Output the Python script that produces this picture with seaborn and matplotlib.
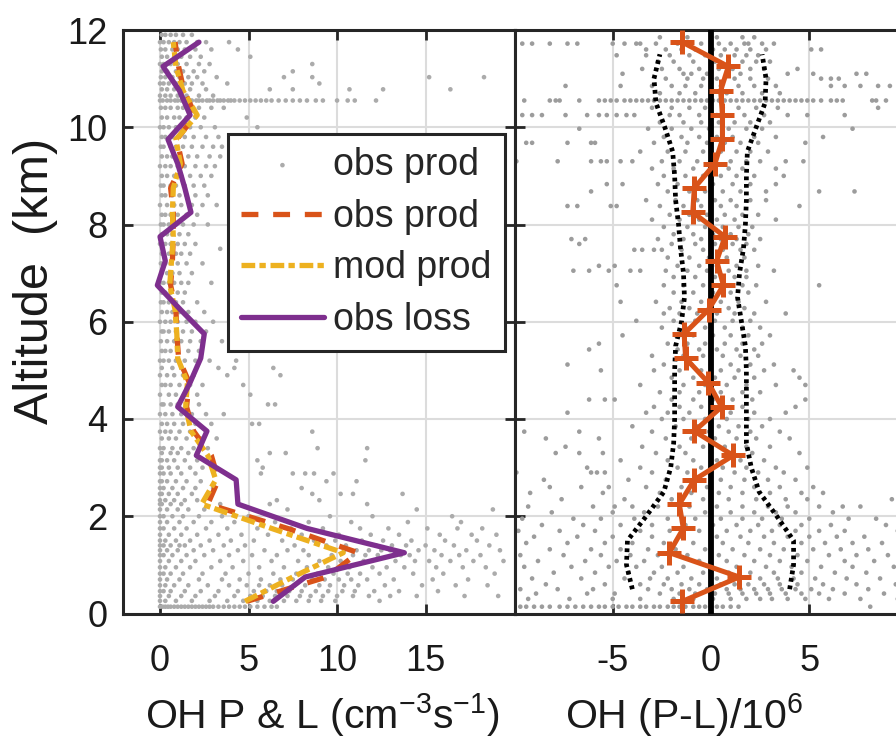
import numpy as np
import pandas as pd
import matplotlib
matplotlib.use("Agg")
import matplotlib.pyplot as plt
import seaborn as sns

# ---------------- data ----------------
alt_levels = [0.25, 0.75, 1.25, 1.75, 2.25, 2.75, 3.25, 3.75, 4.25, 4.75, 5.25, 5.75,
              6.25, 6.75, 7.25, 7.75, 8.25, 8.75, 9.25, 9.75, 10.25, 10.75, 11.25, 11.75]
obs_prod = [4.9, 9.4, 11.2, 7.2, 2.7, 3.3, 2.9, 1.9, 1.5, 1.65, 1.05, 0.95,
            0.9, 0.6, 0.7, 0.75, 0.75, 0.6, 1.25, 0.95, 2.0, 1.35, 1.05, 0.85]
mod_prod = [4.8, 7.5, 10.35, 6.3, 2.35, 3.15, 2.7, 1.75, 1.45, 1.55, 1.0, 0.95,
            0.85, 0.55, 0.65, 0.75, 0.7, 0.75, 1.15, 0.9, 2.1, 1.3, 0.9, 0.75]
obs_loss = [6.4, 8.2, 13.8, 8.3, 4.4, 4.3, 2.05, 2.65, 1.0, 1.7, 2.3, 2.5,
            1.15, -0.15, 0.3, 0.0, 1.75, 1.4, 1.0, 0.45, 1.7, 1.1, 0.17, 2.2]
pl_diff = [-1.46, 1.44, -2.12, -1.41, -1.61, -0.85, 1.13, -0.85, 0.54, -0.14, -1.29, -1.37,
           -0.12, 0.63, 0.29, 0.71, -0.93, -0.85, 0.2, 0.58, 0.58, 0.49, 0.88, -1.46]

band_alt = [0.5, 1.0, 1.5, 2.0, 2.5, 3.0, 3.5, 4.0, 4.5, 5.0, 5.5, 6.0,
            6.5, 7.0, 7.5, 8.0, 8.5, 9.0, 9.5, 10.0, 10.5, 11.0, 11.5]
band_low = [-4.0, -4.3, -4.25, -3.3, -2.4, -2.05, -1.9, -1.85, -1.85, -1.85, -1.8, -1.5,
            -1.35, -1.4, -1.55, -1.65, -1.8, -1.85, -1.95, -2.35, -2.8, -2.9, -2.6]
band_high = [4.0, 4.2, 4.2, 3.35, 2.45, 2.05, 1.8, 1.8, 1.8, 1.8, 1.75, 1.55,
             1.35, 1.45, 1.65, 1.75, 1.8, 1.8, 1.85, 2.3, 2.75, 2.8, 2.6]

left_tick_vals = [0, 5, 10, 15]
right_tick_vals = [-5, 0, 5]
alt_ticks = [0, 2, 4, 6, 8, 10, 12]

left_dot_rows = [
    (11.9, [0.1, 0.3, 0.6, 0.9, 1.3, 1.8]),
    (11.75, [0.0, 0.2, 0.5, 0.8, 1.1, 1.5, 2.1, 2.6, 3.9]),
    (11.6, [0.05, 0.3, 0.7, 1.0, 1.4, 2.0, 2.9, 4.4]),
    (11.45, [0.1, 0.4, 0.8, 1.2, 1.7, 2.3, 5.1]),
    (11.3, [0.0, 0.2, 0.6, 1.0, 1.5, 2.2, 2.8, 8.6]),
    (11.15, [0.1, 0.4, 0.9, 1.3, 1.9, 2.5, 7.5]),
    (11.03, [0.05, 0.3, 0.7, 1.1, 1.6, 2.1, 3.2, 7.0, 8.6, 15.2, 18.3]),
    (10.9, [0.0, 0.2, 0.5, 0.9, 1.4, 1.8, 2.4, 3.8, 9.0]),
    (10.78, [0.1, 0.4, 0.8, 1.2, 1.7, 2.6, 6.2, 7.5, 10.7, 12.6, 16.4]),
    (10.65, [0.0, 0.3, 0.6, 1.0, 1.5, 2.2, 3.0]),
    (10.55, [0.0, 0.15, 0.4, 0.6, 0.85, 1.0, 1.2, 1.45, 1.6, 1.8, 2.05, 2.2, 2.4, 2.65, 2.8, 3.0,
             3.25, 3.4, 3.6, 3.85, 4.0, 4.2, 4.5, 4.8, 5.1, 5.4, 5.7, 6.0, 6.3, 6.7, 7.1, 7.5,
             7.9, 8.3, 8.8, 9.2, 10.0, 10.6, 11.0, 12.2]),
    (10.4, [0.05, 0.3, 0.6, 1.0, 1.3, 1.7, 2.2, 2.9, 3.6]),
    (10.2, [0.1, 0.4, 0.8, 1.1, 1.5, 2.0, 2.5, 4.9]),
    (10.0, [0.0, 0.2, 0.5, 0.9, 1.2, 1.7, 2.3, 3.1, 5.5]),
    (9.8, [0.1, 0.3, 0.7, 1.0, 1.4, 1.9, 2.6, 3.3]),
    (9.6, [0.05, 0.2, 0.6, 0.9, 1.3, 1.8, 2.4, 3.0, 3.5]),
    (9.4, [0.1, 0.4, 0.7, 1.1, 1.6, 2.1, 2.8, 3.4]),
    (9.2, [0.0, 0.3, 0.6, 1.0, 1.4, 2.0, 2.6, 3.1]),
    (9.0, [0.1, 0.4, 0.8, 1.2, 1.7, 2.3, 2.9]),
    (8.8, [0.05, 0.2, 0.6, 0.9, 1.4, 1.9, 2.5]),
    (8.6, [0.1, 0.3, 0.7, 1.1, 1.5, 2.0, 2.7]),
    (8.4, [0.0, 0.4, 0.8, 1.2, 1.8, 2.4, 3.2]),
    (8.2, [0.1, 0.3, 0.6, 1.0, 1.5, 2.1]),
    (8.0, [0.05, 0.2, 0.5, 0.9, 1.3, 1.9, 2.7]),
    (7.8, [0.1, 0.4, 0.7, 1.1, 1.6]),
    (7.6, [0.0, 0.3, 0.6, 1.0, 1.4, 2.0]),
    (7.5, [3.4]),
    (7.4, [0.1, 0.2, 0.5, 0.9, 1.2, 1.7]),
    (7.2, [0.05, 0.3, 0.6, 1.0, 1.5, 2.4]),
    (7.0, [0.1, 0.4, 0.7, 1.1, 1.8]),
    (6.8, [0.0, 0.2, 0.5, 0.8, 1.2, 1.6, 2.9]),
    (6.6, [0.1, 0.3, 0.6, 1.0, 1.4]),
    (6.4, [0.05, 0.2, 0.5, 0.9, 1.3, 2.1]),
    (6.2, [0.1, 0.4, 0.7, 1.1, 1.6, 2.5]),
    (6.0, [0.0, 0.3, 0.6, 1.0, 1.5, 2.0, 3.0]),
    (5.8, [0.1, 0.2, 0.5, 0.9, 1.3, 1.8, 2.6]),
    (5.6, [0.05, 0.4, 0.8, 1.2, 1.7, 2.3, 3.5]),
    (5.4, [0.1, 0.3, 0.6, 1.0, 1.6, 2.2]),
    (5.2, [0.0, 0.2, 0.5, 0.9, 1.4, 2.0, 2.8, 4.3]),
    (5.05, [0.1, 0.7, 1.2, 3.3, 4.2, 6.4]),
    (4.9, [0.0, 0.4, 0.8, 1.3, 1.9, 3.8, 6.8]),
    (4.7, [0.1, 0.3, 0.6, 1.1, 1.7, 2.4, 4.7]),
    (4.5, [0.0, 0.5, 0.9, 1.4, 2.1, 5.1]),
    (4.3, [0.1, 0.2, 0.6, 1.0, 1.5, 2.2, 6.1, 6.5]),
    (4.1, [0.0, 0.3, 0.7, 1.2, 1.8, 2.6, 3.6]),
    (3.9, [0.1, 0.4, 0.8, 1.3, 2.0, 2.9, 5.2, 5.6]),
    (3.74, [0.0, 0.3, 0.6, 1.1, 1.7, 8.6]),
    (3.6, [0.1, 0.5, 0.9, 1.5, 2.3, 3.2]),
    (3.4, [0.0, 0.2, 0.7, 1.2, 1.9, 2.7, 8.9, 11.7]),
    (3.3, [0.1, 0.6, 1.0, 1.6, 6.2, 7.1]),
    (3.15, [0.0, 0.1, 0.4, 0.8, 1.4, 2.1, 5.5, 11.6]),
    (3.0, [0.0, 0.1, 0.5, 1.0, 1.7, 2.4, 5.8]),
    (2.88, [0.0, 0.2, 0.6, 1.2, 2.0, 5.7, 7.5, 8.2, 8.7, 9.8]),
    (2.72, [0.0, 0.1, 0.4, 0.9, 1.5, 2.3, 9.4, 11.1]),
    (2.58, [0.0, 0.2, 0.7, 1.3, 2.0, 3.0, 8.0]),
    (2.46, [0.0, 0.1, 0.5, 1.0, 1.8, 2.7, 8.6, 10.2, 10.9, 13.7]),
    (2.33, [0.0, 0.3, 0.8, 1.4, 2.1, 6.6, 9.0]),
    (2.25, [0.0, 0.1, 0.6, 1.2, 3.4, 6.2, 11.7]),
    (2.14, [0.0, 0.4, 1.0, 1.6, 2.5, 7.2, 14.5, 18.8]),
    (2.0, [0.0, 0.2, 0.7, 1.3, 2.2, 3.5, 5.0, 9.6, 12.0, 16.5]),
    (1.88, [0.0, 0.4, 1.1, 1.9, 2.9, 4.2, 6.5, 8.4, 10.8, 14.0, 17.0]),
    (1.75, [0.0, 0.2, 0.8, 1.5, 2.6, 3.8, 5.5, 7.4, 9.2, 11.3, 12.9, 15.1, 16.8, 18.2]),
    (1.62, [0.0, 0.5, 1.2, 2.1, 3.3, 4.6, 6.1, 8.0, 10.1, 11.9, 13.5, 15.8, 17.6, 19.0]),
    (1.5, [0.0, 0.3, 0.9, 1.7, 2.8, 4.0, 5.3, 6.9, 8.7, 9.9, 11.4, 12.6, 14.2, 16.1, 17.9]),
    (1.4, [0.0, 0.2, 0.6, 1.1, 1.4, 2.3, 3.6, 4.8, 7.6, 9.4, 10.5, 12.2, 13.1, 13.9, 15.0, 16.6, 18.6]),
    (1.3, [0.0, 0.4, 1.0, 1.9, 3.0, 4.4, 5.9, 7.2, 8.1, 10.4, 11.1, 11.8, 12.5, 13.0, 14.6, 15.5, 17.3, 19.2]),
    (1.2, [0.0, 0.2, 0.7, 1.5, 2.5, 3.9, 5.2, 6.6, 8.4, 9.7, 10.9, 11.6, 12.3, 13.6, 14.1, 15.9, 16.9, 18.1]),
    (1.08, [0.0, 0.5, 1.2, 2.0, 3.4, 4.7, 6.3, 7.8, 9.0, 10.2, 11.5, 13.3, 14.4, 15.2, 16.4, 17.7, 19.4]),
    (0.95, [0.0, 0.3, 0.9, 1.7, 2.9, 4.1, 5.6, 7.0, 8.3, 9.5, 10.7, 12.0, 12.8, 13.8, 15.6, 17.1, 18.4]),
    (0.82, [0.0, 0.2, 0.6, 1.3, 2.4, 3.7, 5.0, 6.4, 7.7, 8.9, 9.8, 10.6, 11.3, 12.4, 14.3, 16.0, 18.9]),
    (0.7, [0.0, 0.4, 1.1, 2.2, 3.5, 4.5, 5.7, 6.8, 7.5, 8.6, 9.3, 10.1, 10.8, 11.7, 13.2, 15.4, 17.4]),
    (0.58, [0.0, 0.3, 0.8, 1.6, 2.7, 3.9, 4.9, 5.6, 6.2, 6.9, 7.6, 8.2, 9.0, 9.6, 10.4, 11.2, 12.7, 14.8, 16.7, 18.5]),
    (0.46, [0.0, 0.2, 0.6, 1.4, 2.3, 3.3, 4.4, 5.3, 6.0, 6.6, 7.3, 8.0, 8.8, 9.5, 10.3, 11.0, 12.1, 13.5, 15.7]),
    (0.36, [0.0, 0.5, 1.2, 2.0, 3.1, 4.2, 5.1, 5.8, 6.5, 7.2, 7.9, 8.5, 9.2, 10.0, 10.9, 11.8, 13.0, 14.5, 17.2, 19.1]),
    (0.26, [0.0, 0.3, 0.9, 1.8, 2.8, 3.8, 4.7, 5.5, 6.2, 7.0, 7.7, 8.4, 9.1, 9.9, 12.4]),
    (0.14, [0.0, 0.15, 0.3, 0.45, 0.6, 0.8, 1.0, 1.2, 1.4, 1.6, 1.8, 2.0, 2.2, 2.4, 2.6, 2.8,
            3.0, 3.3, 3.6, 3.9, 4.2, 4.5, 4.8, 5.1, 5.5, 5.9, 6.3, 6.6]),
]

right_dot_rows = [
    (11.85, [-2.6, -1.2, 0.3, 1.6, 2.2]),
    (11.72, [-9.6, -9.1, -8.2, -7.3, -6.8, -5.0, -4.4, -3.8, -3.6, -2.8, -1.7, -0.5, 0.4, 1.0, 1.7, 1.9, 2.6, 3.2]),
    (11.6, [-3.3, -2.3, -1.5, -0.8, 0.1, 0.7, 1.3, 2.0, 2.8, 5.1, 5.6]),
    (11.48, [-4.8, -3.3, -2.1, -1.1, -0.3, 0.5, 1.2, 1.8, 2.4]),
    (11.35, [-2.7, -1.9, -0.9, 0.2, 0.9, 1.6, 2.3, 3.0]),
    (11.2, [-3.5, -2.5, -1.6, -0.6, 0.4, 1.1, 2.0, 2.7, 4.4]),
    (11.1, [-4.5, -1.4, -1.0, -0.2, 0.8, 1.5, 3.9, 5.2, 7.4, 7.9]),
    (11.0, [-2.3, -1.2, -0.4, 0.3, 1.2, 2.0, 2.9, 5.6, 6.1, 6.5]),
    (10.85, [-7.4, -4.6, -3.0, -2.0, -1.3, -0.5, 0.5, 1.4, 2.2, 3.3, 6.1, 6.8, 7.6, 8.5, 9.1]),
    (10.7, [-2.6, -1.6, -0.8, 0.0, 0.8, 1.6, 2.6, 3.5]),
    (10.55, [-9.5, -8.2, -7.9, -7.7, -6.7, -5.7, -5.4, -5.1, -4.8, -4.4, -4.1, -3.8, -3.5, -3.2,
             -2.9, -2.6, -2.3, -2.0, -1.7, -1.4, -1.1, -0.8, -0.5, -0.2, 0.1, 0.4, 0.7, 1.0, 1.3,
             1.6, 1.9, 2.2, 2.5, 2.8, 3.1, 3.4, 3.7, 4.0, 4.3, 4.6, 4.9, 5.2, 5.6, 6.1, 6.4, 6.7,
             8.2, 8.4, 8.9]),
    (10.4, [-3.0, -2.0, -1.1, -0.3, 0.6, 1.4, 2.3, 3.4, 8.5]),
    (10.25, [-9.6, -9.1, -8.6, -7.4, -6.3, -5.7, -5.3, -4.8, -4.3, -3.9, -2.1, -1.6, -0.6, 0.3,
             0.6, 1.7, 2.7, 3.9, 4.9, 6.8]),
    (10.1, [-2.6, -1.4, -0.5, 0.4, 1.2, 2.0, 3.0]),
    (9.97, [-6.7, -3.2, -2.0, -1.0, -0.1, 0.9, 1.8, 2.6, 7.2]),
    (9.8, [-2.4, -1.5, -0.6, 0.3, 1.1, 2.2, 3.3, 5.7]),
    (9.68, [-9.4, -9.1, -7.3, -6.1, -5.9, -2.9, -1.2, -0.2, 0.7, 1.5, 2.4, 4.8]),
    (9.5, [-3.6, -2.2, -1.3, -0.4, 0.5, 1.3, 2.0, 2.9]),
    (9.3, [-9.9, -7.8, -6.1, -5.6, -5.3, -4.6, -4.0, -2.5, -1.6, -0.7, 0.2, 1.0, 1.8, 2.5, 3.8, 4.7]),
    (9.15, [-3.0, -1.9, -0.9, 0.0, 0.9, 1.6, 3.3]),
    (9.0, [-2.4, -1.3, -0.4, 0.5, 1.3, 2.2, 3.7]),
    (8.83, [-5.3, -4.5, -2.7, -1.7, -0.8, 0.1, 1.1, 2.0, 3.3]),
    (8.68, [-6.1, -2.2, -1.1, -0.3, 0.6, 1.5, 2.8, 5.5, 7.3]),
    (8.5, [-3.3, -1.8, -0.7, 0.2, 1.0, 2.0, 2.8]),
    (8.38, [-7.3, -6.8, -5.1, -4.8, -2.6, -1.4, -0.5, 0.5, 1.3, 4.5]),
    (8.2, [-2.1, -1.1, -0.2, 0.7, 1.6, 2.4]),
    (8.1, [-3.0, -1.6, -0.6, 0.3, 1.2, 3.3]),
    (7.95, [-2.4, -1.2, -0.3, 0.6, 1.4, 2.1]),
    (7.8, [-1.9, -0.9, 0.1, 1.0, 1.9]),
    (7.7, [-7.1, -6.4, -2.7, -1.4, -0.5, 0.5, 1.3, 2.5]),
    (7.6, [-6.7, -2.0, -0.8, 0.2, 1.1, 1.8]),
    (7.48, [-3.9, -3.5, -2.9, -2.5, -1.5, -0.4, 0.6, 1.5, 2.2]),
    (7.32, [-2.2, -1.1, -0.1, 0.8, 1.7]),
    (7.15, [-5.7, -4.9, -1.7, -0.6, 0.3, 1.3, 2.4]),
    (7.05, [-7.0, -6.2, -5.2, -4.1, -3.6, -2.3, -1.2, -0.2, 0.9, 1.8, 3.2]),
    (6.92, [-1.9, -0.8, 0.2, 1.2, 1.8]),
    (6.75, [-4.8, -2.4, -1.4, -0.4, 0.6, 1.6, 2.3, 5.5]),
    (6.6, [-1.9, -0.9, 0.1, 1.0, 1.9]),
    (6.41, [-4.6, -2.8, -1.5, -0.5, 0.5, 1.4, 2.8]),
    (6.28, [-2.1, -1.1, -0.1, 0.9, 1.7]),
    (6.17, [-2.4, -1.6, -0.7, 0.3, 1.2, 2.2, 3.8]),
    (6.02, [-3.8, -1.9, -0.8, 0.2, 1.1, 2.0]),
    (5.88, [-2.5, -1.3, -0.3, 0.7, 1.6, 2.5]),
    (5.72, [-4.5, -1.8, -0.9, 0.1, 1.0, 1.9, 3.0]),
    (5.55, [-5.7, -2.2, -1.2, -0.3, 0.7, 1.6, 2.6]),
    (5.43, [-6.2, -1.7, -0.6, 0.3, 1.3, 2.2]),
    (5.3, [-3.0, -1.4, -0.4, 0.6, 1.5, 2.4]),
    (5.12, [-7.3, -2.4, -1.0, 0.0, 1.0, 2.0, 3.2]),
    (5.0, [-5.6, -2.9, -1.6, -0.5, 0.5, 1.4, 2.7, 4.2]),
    (4.85, [-2.0, -0.9, 0.2, 1.2, 2.2, 4.5]),
    (4.7, [-3.6, -1.4, -0.3, 0.8, 1.8, 3.3, 4.8]),
    (4.55, [-2.6, -1.6, -0.6, 0.5, 1.6, 2.5]),
    (4.4, [-6.2, -5.4, -4.9, -2.0, -0.9, 0.1, 1.1, 2.1, 4.8]),
    (4.25, [-2.9, -1.6, -0.5, 0.6, 1.6, 4.3]),
    (4.13, [-7.3, -3.3, -2.2, -1.1, 0.0, 1.0, 2.2, 3.8]),
    (4.0, [-2.5, -1.4, -0.3, 0.8, 1.9, 3.0]),
    (3.85, [-4.0, -1.8, -0.7, 0.4, 1.4, 2.6]),
    (3.74, [-9.5, -6.7, -3.0, -1.2, -0.1, 0.9, 2.0, 3.5]),
    (3.6, [-8.4, -5.7, -2.3, -1.0, 0.2, 1.3, 2.3, 4.0]),
    (3.43, [-7.4, -3.5, -1.6, -0.4, 0.7, 1.8, 3.0]),
    (3.3, [-7.9, -6.7, -5.5, -2.8, -1.3, 0.0, 1.0, 2.1, 4.5]),
    (3.15, [-4.6, -2.2, -0.9, 0.3, 1.5, 2.7]),
    (3.0, [-6.3, -3.6, -1.7, -0.5, 0.6, 1.8, 3.3, 4.9]),
    (2.9, [-9.9, -6.1, -5.8, -5.4, -3.0, -1.2, 0.0, 1.2, 2.4, 3.7]),
    (2.75, [-8.5, -4.2, -2.3, -0.8, 0.5, 1.7, 2.9, 4.3]),
    (2.6, [-8.2, -6.6, -5.2, -3.3, -1.5, -0.2, 1.0, 2.2, 3.5, 5.2]),
    (2.48, [-9.2, -5.5, -2.6, -1.0, 0.4, 1.6, 3.0, 4.6, 5.7]),
    (2.35, [-7.6, -4.4, -2.0, -0.4, 0.9, 2.3, 3.8, 4.9, 9.2]),
    (2.2, [-9.3, -6.0, -4.9, -4.0, -2.7, -1.1, 0.3, 1.6, 2.9, 3.9, 5.5, 6.7, 7.6]),
    (2.08, [-8.1, -5.0, -3.4, -1.6, -0.3, 1.0, 2.2, 3.3, 4.3, 6.2]),
    (1.95, [-9.6, -7.0, -5.6, -3.9, -2.2, -0.8, 0.5, 1.6, 2.6, 3.6, 5.0, 7.0, 8.4]),
    (1.82, [-8.6, -6.5, -4.6, -3.0, -1.3, 0.1, 1.3, 2.4, 3.5, 4.6, 6.1, 8.9]),
    (1.7, [-9.8, -7.7, -5.9, -3.6, -2.1, -0.6, 0.8, 2.0, 3.1, 4.3, 5.5, 6.8, 9.5]),
    (1.58, [-9.0, -6.8, -5.0, -3.0, -1.5, 0.3, 1.5, 2.7, 3.9, 5.0, 6.4, 7.8]),
    (1.45, [-9.4, -7.3, -5.4, -4.0, -2.4, -0.9, 0.6, 1.9, 3.2, 4.6, 5.8, 7.2, 8.7]),
    (1.32, [-8.2, -6.1, -4.6, -3.2, -1.8, -0.3, 1.1, 2.5, 3.7, 5.2, 6.6, 8.0, 9.7]),
    (1.2, [-9.7, -7.5, -5.6, -4.1, -2.7, -1.2, 0.4, 1.7, 3.0, 4.4, 6.0, 7.4, 9.0]),
    (1.08, [-8.8, -6.4, -4.8, -3.4, -2.1, -0.6, 0.8, 2.2, 3.5, 4.9, 6.8, 8.3]),
    (0.96, [-9.5, -7.1, -5.2, -3.8, -2.5, -1.4, 0.0, 1.3, 2.8, 4.1, 5.6, 7.2, 9.3]),
    (0.84, [-8.0, -5.9, -4.2, -2.9, -1.7, -0.4, 0.9, 2.0, 3.2, 4.6, 6.3, 7.9, 9.8]),
    (0.72, [-9.1, -6.6, -4.4, -3.1, -2.2, -1.0, 0.3, 1.4, 2.5, 3.4, 4.2, 5.3, 6.9, 8.6]),
    (0.6, [-8.4, -5.4, -3.6, -2.4, -1.5, -0.6, 0.5, 1.2, 1.9, 2.7, 3.5, 4.4, 5.7, 7.4, 9.4]),
    (0.5, [-9.7, -7.8, -6.0, -3.2, -2.0, -1.1, -0.2, 0.8, 1.5, 2.2, 2.9, 3.6, 4.3, 5.1, 6.2, 8.0]),
    (0.41, [-8.9, -6.3, -4.9, -2.6, -1.6, -0.8, 0.2, 0.9, 1.6, 2.3, 3.0, 3.8, 4.6, 5.5, 6.8, 8.8]),
    (0.3, [-9.3, -7.2, -5.0, -3.6, -1.9, -0.9, 0.1, 1.0, 1.8, 2.5, 3.1, 3.9, 4.8, 6.0, 7.6, 9.5]),
    (0.14, [-9.7, -9.4, -9.0, -8.6, -8.2, -7.7, -7.3, -6.9, -6.5, -6.1, -5.7, -5.4, -5.0, -4.7,
            -4.3, -4.0, -3.6, -3.3, -2.9, -2.6, -2.2, -1.9, -1.6, -1.3, -0.9, -0.6, -0.3, 0.0,
            0.3, 0.6, 1.0, 1.4, 8.1]),
]

# ---------------- style ----------------
ORANGE = "#D95319"
YELLOW = "#EDB120"
PURPLE = "#7E2F8E"
SPINE = "#262626"
TEXT = "#1a1a1a"

sns.set_theme(style="white")
plt.rcParams["font.family"] = ["Liberation Sans", "DejaVu Sans"]
plt.rcParams["mathtext.fontset"] = "custom"
plt.rcParams["mathtext.rm"] = "Liberation Sans"
plt.rcParams["mathtext.it"] = "Liberation Sans:italic"
plt.rcParams["mathtext.default"] = "regular"
plt.rcParams["axes.unicode_minus"] = False


def flatten(rows):
    xs, ys = [], []
    for a, vals in rows:
        for v in vals:
            xs.append(v)
            ys.append(a)
    return pd.DataFrame({"val": xs, "alt": ys})


left_df = flatten(left_dot_rows)
right_df = flatten(right_dot_rows)
prof_df = pd.DataFrame({"alt": alt_levels, "obs_prod": obs_prod, "mod_prod": mod_prod,
                        "obs_loss": obs_loss, "pl": pl_diff})
band_df = pd.DataFrame({"alt": band_alt, "low": band_low, "high": band_high})

W, H = 896, 745
fig = plt.figure(figsize=(W / 100, H / 100), dpi=100)
bottom = (H - 613.5) / H
height = 583.5 / H
axL = fig.add_axes([123 / W, bottom, 392 / W, height])
axR = fig.add_axes([515 / W, bottom, 392 / W, height])

# ---- left panel ----
sns.scatterplot(data=left_df, x="val", y="alt", ax=axL, s=11, color="#ABABAB",
                edgecolor="none", linewidth=0, zorder=2, legend=False)
dots = axL.collections[-1]
sns.lineplot(data=prof_df, x="obs_prod", y="alt", ax=axL, sort=False, estimator=None,
             color=ORANGE, lw=3.8, linestyle=(0, (3.2, 2.8)), zorder=3, legend=False)
l_obs = axL.lines[-1]
sns.lineplot(data=prof_df, x="mod_prod", y="alt", ax=axL, sort=False, estimator=None,
             color=YELLOW, lw=3.8, linestyle=(0, (2.6, 0.8, 1.2, 0.9)), zorder=4, legend=False)
l_mod = axL.lines[-1]
sns.lineplot(data=prof_df, x="obs_loss", y="alt", ax=axL, sort=False, estimator=None,
             color=PURPLE, lw=3.8, zorder=5, legend=False)
l_loss = axL.lines[-1]

axL.set_xlim(-2.09, 20.05)
axL.set_xticks(left_tick_vals)
axL.set_xticklabels([str(v) for v in left_tick_vals])

# ---- right panel ----
sns.scatterplot(data=right_df, x="val", y="alt", ax=axR, s=11, color="#9C9C9C",
                edgecolor="none", linewidth=0, zorder=2, legend=False)
axR.axvline(0, color="black", lw=4.2, zorder=3)
sns.lineplot(data=band_df, x="low", y="alt", ax=axR, sort=False, estimator=None,
             color="black", lw=3.4, linestyle=(0, (0.8, 0.8)), zorder=4, legend=False)
sns.lineplot(data=band_df, x="high", y="alt", ax=axR, sort=False, estimator=None,
             color="black", lw=3.4, linestyle=(0, (0.8, 0.8)), zorder=4, legend=False)
sns.lineplot(data=prof_df, x="pl", y="alt", ax=axR, sort=False, estimator=None,
             color=ORANGE, lw=3.6, marker="+", markersize=17, markeredgewidth=3.6,
             markeredgecolor=ORANGE, zorder=5, legend=False)
axR.set_xlim(-9.97, 9.97)
axR.set_xticks(right_tick_vals)
axR.set_xticklabels([str(v) for v in right_tick_vals])

for ax in (axL, axR):
    ax.set_ylim(0, 12)
    ax.set_yticks(alt_ticks)
    ax.set_axisbelow(True)
    ax.grid(True, color="#DCDCDC", lw=1.5, zorder=0)
    for s in ax.spines.values():
        s.set_color(SPINE)
        s.set_linewidth(2.2)
        s.set_visible(True)
    ax.tick_params(axis="both", direction="in", length=7, width=2, colors=SPINE,
                   top=True, right=True, bottom=True, left=True, labelsize=26,
                   labelcolor=TEXT)
    ax.tick_params(axis="x", pad=22)
    ax.tick_params(axis="y", pad=11)
    ax.set_xlabel("")
    ax.set_ylabel("")

axR.tick_params(axis="y", labelleft=False)

axL.set_ylabel("Altitude  (km)", fontsize=35, color=TEXT)
axL.yaxis.set_label_coords(-0.165, 0.57)
axL.set_xlabel(r"OH P & L (cm$^{-3}$s$^{-1}$)", fontsize=29.5, color=TEXT)
axL.xaxis.set_label_coords(0.51, -0.134)
axR.set_xlabel(r"OH (P-L)/10$^{6}$", fontsize=29.5, color=TEXT)
axR.xaxis.set_label_coords(0.43, -0.134)

leg = axL.legend(handles=[dots, l_obs, l_mod, l_loss],
                 labels=["obs prod", "obs prod", "mod prod", "obs loss"],
                 loc="upper left", bbox_to_anchor=(0.268, 0.822), fontsize=27,
                 frameon=True, fancybox=False, edgecolor=SPINE, framealpha=1,
                 handlelength=2.2, handletextpad=0.25, labelspacing=0.42,
                 borderpad=0.35, borderaxespad=0, scatterpoints=1, markerscale=1.0)
leg.get_frame().set_linewidth(2.2)
leg.set_zorder(10)

fig.savefig("out.png", dpi=100)
